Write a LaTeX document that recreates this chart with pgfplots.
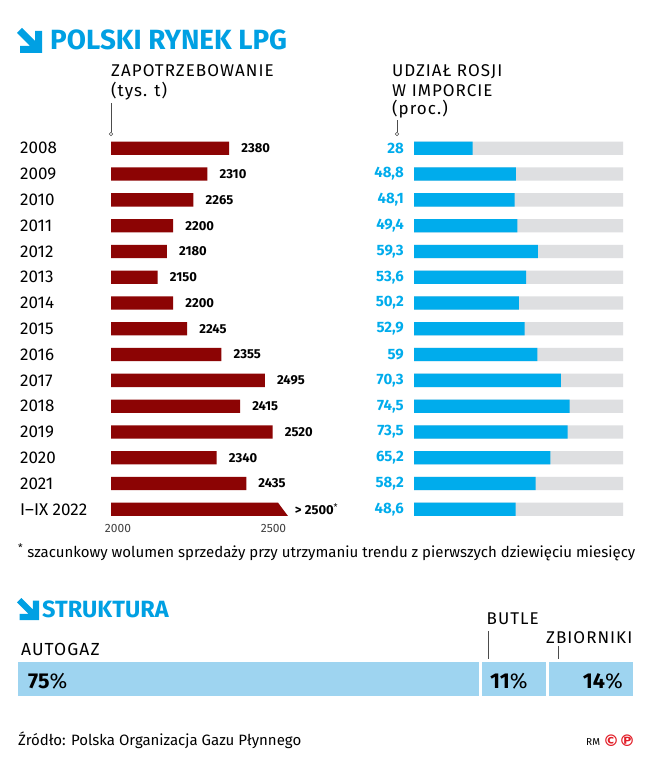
\documentclass[border=0pt]{standalone}
\usepackage{fontspec}
\setmainfont{Fira Sans}
\newfontfamily\lbl[LetterSpace=6]{Fira Sans}
\newfontfamily\djv{DejaVu Sans}
\usepackage{pgfplots}
\pgfplotsset{compat=1.18}
\usepackage{pgfplotstable}

\definecolor{lpgred}{RGB}{140,4,4}
\definecolor{lpgblue}{RGB}{0,172,236}
\definecolor{titleblue}{RGB}{0,160,227}
\definecolor{trackgray}{RGB}{222,223,225}
\definecolor{structblue}{RGB}{158,212,240}
\definecolor{cpred}{RGB}{226,30,40}

\pgfplotstableread{
row demand share
0 2380 28
1 2310 48.8
2 2265 48.1
3 2200 49.4
4 2180 59.3
5 2150 53.6
6 2200 50.2
7 2245 52.9
8 2355 59
9 2495 70.3
10 2415 74.5
11 2520 73.5
12 2340 65.2
13 2435 58.2
14 nan 48.6
}\data

\newcommand\arrowicon[3]{%
  \begin{scope}[shift={(#1,#2)},scale=#3]
    \fill[titleblue] (5pt,0pt) -- (18pt,-13pt) -- (18pt,-3pt) -- (25pt,-3pt) -- (25pt,-25pt)
      -- (3pt,-25pt) -- (3pt,-18pt) -- (13pt,-18pt) -- (0pt,-5pt) -- cycle;
  \end{scope}}

\begin{document}
\begin{tikzpicture}
\useasboundingbox[fill=white] (0pt,0pt) rectangle (649pt,-760pt);

% titles
\arrowicon{17pt}{-28pt}{1}
\node[anchor=base west, inner sep=0pt, text=titleblue, font=\fontsize{27.8}{28}\selectfont\bfseries] at (50pt,-50pt) {POLSKI RYNEK LPG};

\node[anchor=base west, inner sep=0pt, font=\lbl\fontsize{17}{19}\selectfont] at (111pt,-77pt) {ZAPOTRZEBOWANIE};
\node[anchor=base west, inner sep=0pt, font=\lbl\fontsize{17}{19}\selectfont] at (111pt,-96pt) {(tys. t)};
\draw[black!70, line width=0.6pt] (111pt,-103pt) -- (111pt,-132pt);
\draw[black!70, line width=0.5pt, fill=white] (111pt,-134pt) circle (1.8pt);

\node[anchor=base west, inner sep=0pt, font=\lbl\fontsize{17}{19}\selectfont] at (392pt,-77pt) {UDZIAŁ ROSJI};
\node[anchor=base west, inner sep=0pt, font=\lbl\fontsize{17}{19}\selectfont] at (392pt,-96pt) {W IMPORCIE};
\node[anchor=base west, inner sep=0pt, font=\lbl\fontsize{17}{19}\selectfont] at (392pt,-114pt) {(proc.)};
\draw[black!70, line width=0.6pt] (397pt,-120pt) -- (397pt,-132pt);
\draw[black!70, line width=0.5pt, fill=white] (397pt,-134pt) circle (1.8pt);

% left: demand
\begin{axis}[
  at={(111pt,-135.4pt)}, anchor=north west,
  scale only axis, width=186.6pt, height=386.8pt,
  xmin=0, xmax=600, ymin=-0.5, ymax=14.5, y dir=reverse,
  axis line style={draw=none}, major tick length=0pt,
  xtick={0,500}, xticklabels={2000,2500},
  ytick={0,1,2,3,4,5,6,7,8,9,10,11,12,13,14},
  yticklabels={2008,2009,2010,2011,2012,2013,2014,2015,2016,2017,2018,2019,2020,2021,I–IX 2022},
  yticklabel style={anchor=west, xshift=-91pt, inner sep=0pt, font=\fontsize{17}{17}\selectfont},
  xticklabel style={font=\fontsize{12}{12}\selectfont, text=black!75, xshift=7pt, inner sep=2pt},
  /pgf/number format/1000 sep={},
  /pgf/number format/assume math mode=true,
  clip=false,
]
\addplot[xbar, bar width=13.3pt, bar shift=0pt, fill=lpgred, draw=none,
  point meta=explicit,
  nodes near coords,
  every node near coord/.append style={anchor=west, xshift=12pt, inner sep=0pt,
    font=\fontsize{13}{13}\selectfont\bfseries, text=black}]
  table[x expr=\thisrow{demand}-2000, y=row, meta=demand]{\data};
% I-IX 2022: arrow-shaped bar (> 2500)
\addplot[fill=lpgred, draw=none] coordinates {(0,13.742) (537,13.742) (569,14.258) (0,14.258)};
\node[anchor=west, inner sep=0pt, font=\fontsize{13}{13}\selectfont\bfseries] at (axis cs:591,14) {> 2500\textsuperscript{\mdseries*}};
\end{axis}

% right: share of Russia
\begin{axis}[
  at={(414pt,-135.4pt)}, anchor=north west,
  scale only axis, width=209pt, height=386.8pt,
  xmin=0, xmax=100, ymin=-0.5, ymax=14.5, y dir=reverse,
  hide axis, clip=false,
]
\addplot[xbar, bar width=13.3pt, bar shift=0pt, fill=trackgray, draw=none]
  table[x expr=100, y=row]{\data};
\addplot[xbar, bar width=13.3pt, bar shift=0pt, fill=lpgblue, draw=none]
  table[x=share, y=row]{\data};
\addplot[draw=none, mark=none, point meta=explicit, nodes near coords,
  every node near coord/.append style={anchor=east, xshift=-10pt, inner sep=0pt,
    font=\fontsize{15}{15}\selectfont\bfseries, text=lpgblue},
  /pgf/number format/.cd, use comma, fixed, precision=1, assume math mode=true]
  table[x expr=0, y=row, meta=share]{\data};
\end{axis}

\node[anchor=base west, inner sep=0pt, font=\fontsize{15}{16}\selectfont] at (18pt,-557pt)
  {\textsuperscript{*} szacunkowy wolumen sprzedaży przy utrzymaniu trendu z pierwszych dziewięciu miesięcy};

% structure
\arrowicon{17pt}{-598pt}{0.88}
\node[anchor=base west, inner sep=0pt, text=titleblue, font=\fontsize{23.5}{24}\selectfont\bfseries] at (42pt,-617pt) {STRUKTURA};

\node[anchor=base west, inner sep=0pt, font=\lbl\fontsize{17.5}{17}\selectfont] at (21pt,-655pt) {AUTOGAZ};
\node[anchor=base west, inner sep=0pt, font=\lbl\fontsize{17}{17}\selectfont] at (486.5pt,-624pt) {BUTLE};
\node[anchor=base west, inner sep=0pt, font=\lbl\fontsize{17}{17}\selectfont] at (546pt,-643pt) {ZBIORNIKI};
\draw[black!70, line width=0.6pt] (488pt,-631pt) -- (488pt,-661pt);
\draw[black!70, line width=0.5pt, fill=white] (488pt,-662.5pt) circle (1.8pt);
\draw[black!70, line width=0.6pt] (558pt,-646pt) -- (558pt,-661pt);
\draw[black!70, line width=0.5pt, fill=white] (558pt,-662.5pt) circle (1.8pt);

\begin{axis}[
  at={(16.5pt,-660.5pt)}, anchor=north west,
  scale only axis, width=618pt, height=37pt,
  xmin=0, xmax=100, ymin=-0.5, ymax=0.5,
  hide axis, clip=false, xbar stacked, bar width=37pt,
]
\addplot[fill=structblue, draw=white, line width=3pt] coordinates {(75,0)};
\addplot[fill=structblue, draw=white, line width=3pt] coordinates {(11,0)};
\addplot[fill=structblue, draw=white, line width=3pt] coordinates {(14,0)};
\end{axis}
\node[anchor=base west, inner sep=0pt, font=\fontsize{21.5}{21}\selectfont] at (28pt,-688pt) {\textbf{75}\%};
\node[anchor=base west, inner sep=0pt, font=\fontsize{21.5}{21}\selectfont] at (490pt,-688pt) {\textbf{11}\%};
\node[anchor=base east, inner sep=0pt, font=\fontsize{21.5}{21}\selectfont] at (623pt,-688pt) {\textbf{14}\%};

% footer
\node[anchor=base west, inner sep=0pt, font=\fontsize{15}{15}\selectfont] at (18pt,-745pt) {Źródło: Polska Organizacja Gazu Płynnego};
\node[anchor=base west, inner sep=0pt, font=\fontsize{10}{10}\selectfont] at (586pt,-745pt) {RM};
\node[anchor=base west, inner sep=0pt, text=cpred, font=\djv\bfseries\fontsize{16}{16}\selectfont] at (603pt,-746pt) {©℗};
\end{tikzpicture}
\end{document}
